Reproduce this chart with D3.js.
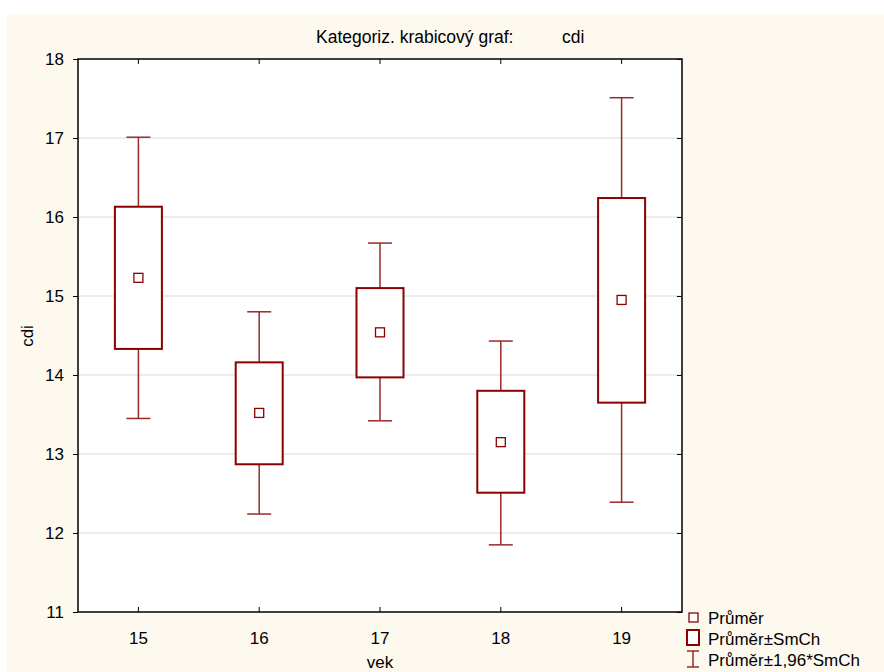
<!DOCTYPE html>
<html>
<head>
<meta charset="utf-8">
<script src="https://cdn.jsdelivr.net/npm/d3@7"></script>
<style>
  body { margin: 0; background: #fff; }
  text { font-family: Arial, "Liberation Sans", sans-serif; fill: #000; }
</style>
</head>
<body>
<div class="vis-box"></div>
<script>
const categories = ['15', '16', '17', '18', '19'];
const means = [15.23, 13.52, 14.54, 13.15, 14.95];
const seLow = [14.33, 12.87, 13.97, 12.51, 13.65];
const seHigh = [16.13, 14.16, 15.10, 13.80, 16.24];
const ciLow = [13.45, 12.24, 13.42, 11.85, 12.39];
const ciHigh = [17.01, 14.80, 15.67, 14.43, 17.51];
const yTicks = [11, 12, 13, 14, 15, 16, 17, 18];
const legendLabels = ['Průměr', 'Průměr±SmCh', 'Průměr±1,96*SmCh'];

const W = 884;
const H = 672;
const margin = { top: 59, right: 202, bottom: 60, left: 78 };
const width = W - margin.left - margin.right;
const height = H - margin.top - margin.bottom;
const dark = '#8b0000';
const whiskerCol = '#9b2a2a';

const root = d3.select('.vis-box')
  .append('svg')
  .attr('width', W)
  .attr('height', H);

// cream page background
root.append('rect')
  .attr('x', 7).attr('y', 14)
  .attr('width', W - 7).attr('height', H - 14)
  .attr('fill', '#fdf9ef');

// title in two parts, like the original
root.append('text')
  .attr('x', 316).attr('y', 43)
  .attr('font-size', 17.5)
  .text('Kategoriz. krabicový graf:');
root.append('text')
  .attr('x', 562).attr('y', 43)
  .attr('font-size', 17.5)
  .text('cdi');

const svg = root.append('g')
  .attr('transform', `translate(${margin.left},${margin.top})`);

svg.append('rect')
  .attr('width', width).attr('height', height)
  .attr('fill', '#fff');

const x = d3.scaleBand().domain(categories).range([0, width]);
const y = d3.scaleLinear().domain([11, 18]).range([height, 0]);

// grid
svg.append('g')
  .selectAll('line')
  .data(yTicks.slice(1, -1))
  .join('line')
  .attr('x1', 0).attr('x2', width)
  .attr('y1', (d) => y(d)).attr('y2', (d) => y(d))
  .attr('stroke', '#d9d9d9')
  .attr('stroke-width', 1);

// axes
const yAxis = svg.append('g')
  .call(d3.axisLeft(y).tickValues(yTicks).tickSize(5).tickPadding(9).tickFormat(d3.format('d')));
yAxis.selectAll('text').attr('font-size', 17);
svg.append('g')
  .attr('transform', `translate(${width},0)`)
  .call(d3.axisLeft(y).tickValues(yTicks).tickSize(5).tickFormat(''));
svg.append('g')
  .attr('transform', `translate(0,${height})`)
  .call(d3.axisTop(x).tickSize(5).tickFormat(''));
svg.append('g')
  .call(d3.axisBottom(x).tickSize(5).tickFormat(''));
svg.append('g')
  .attr('transform', `translate(0,${height})`)
  .selectAll('text')
  .data(categories)
  .join('text')
  .attr('x', (d) => x(d) + x.bandwidth() / 2)
  .attr('y', 32)
  .attr('text-anchor', 'middle')
  .attr('font-size', 17)
  .text((d) => d);
svg.selectAll('.domain').attr('stroke', 'none');
svg.selectAll('.tick line').attr('stroke', '#000');

svg.append('rect')
  .attr('width', width).attr('height', height)
  .attr('fill', 'none')
  .attr('stroke', '#000')
  .attr('stroke-width', 1.5);

// boxes
const boxW = 47;
const capW = 24;
const g = svg.append('g')
  .selectAll('g')
  .data(categories)
  .join('g')
  .attr('transform', (d) => `translate(${x(d) + x.bandwidth() / 2},0)`);

g.append('line')
  .attr('x1', 0).attr('x2', 0)
  .attr('y1', (d, i) => y(ciHigh[i])).attr('y2', (d, i) => y(seHigh[i]))
  .attr('stroke', whiskerCol).attr('stroke-width', 1.5);
g.append('line')
  .attr('x1', 0).attr('x2', 0)
  .attr('y1', (d, i) => y(seLow[i])).attr('y2', (d, i) => y(ciLow[i]))
  .attr('stroke', whiskerCol).attr('stroke-width', 1.5);
g.append('line')
  .attr('x1', -capW / 2).attr('x2', capW / 2)
  .attr('y1', (d, i) => y(ciHigh[i])).attr('y2', (d, i) => y(ciHigh[i]))
  .attr('stroke', whiskerCol).attr('stroke-width', 1.5);
g.append('line')
  .attr('x1', -capW / 2).attr('x2', capW / 2)
  .attr('y1', (d, i) => y(ciLow[i])).attr('y2', (d, i) => y(ciLow[i]))
  .attr('stroke', whiskerCol).attr('stroke-width', 1.5);
g.append('rect')
  .attr('x', -boxW / 2)
  .attr('y', (d, i) => y(seHigh[i]))
  .attr('width', boxW)
  .attr('height', (d, i) => y(seLow[i]) - y(seHigh[i]))
  .attr('fill', '#fff')
  .attr('stroke', dark).attr('stroke-width', 2);
g.append('rect')
  .attr('x', -4.5)
  .attr('y', (d, i) => y(means[i]) - 4.5)
  .attr('width', 9).attr('height', 9)
  .attr('fill', '#fff')
  .attr('stroke', dark).attr('stroke-width', 1.3);

// axis titles
root.append('text')
  .attr('transform', 'translate(33,336) rotate(-90)')
  .attr('text-anchor', 'middle')
  .attr('font-size', 17)
  .text('cdi');
root.append('text')
  .attr('x', margin.left + width / 2).attr('y', 668)
  .attr('text-anchor', 'middle')
  .attr('font-size', 17)
  .text('vek');

// legend
const lg = root.append('g').attr('transform', 'translate(693,0)');
lg.append('rect')
  .attr('x', -4).attr('y', 613).attr('width', 9).attr('height', 9)
  .attr('fill', '#fff').attr('stroke', dark).attr('stroke-width', 1.3);
lg.append('rect')
  .attr('x', -6).attr('y', 630).attr('width', 12).attr('height', 15)
  .attr('fill', '#fff').attr('stroke', dark).attr('stroke-width', 2);
lg.append('line').attr('x1', 0).attr('x2', 0).attr('y1', 651).attr('y2', 667)
  .attr('stroke', whiskerCol).attr('stroke-width', 1.5);
lg.append('line').attr('x1', -6).attr('x2', 6).attr('y1', 651).attr('y2', 651)
  .attr('stroke', whiskerCol).attr('stroke-width', 1.5);
lg.append('line').attr('x1', -6).attr('x2', 6).attr('y1', 667).attr('y2', 667)
  .attr('stroke', whiskerCol).attr('stroke-width', 1.5);
lg.selectAll('text.lab')
  .data(legendLabels)
  .join('text')
  .attr('class', 'lab')
  .attr('x', 15)
  .attr('y', (d, i) => 624 + i * 21)
  .attr('font-size', 17)
  .text((d) => d);
</script>
</body>
</html>
